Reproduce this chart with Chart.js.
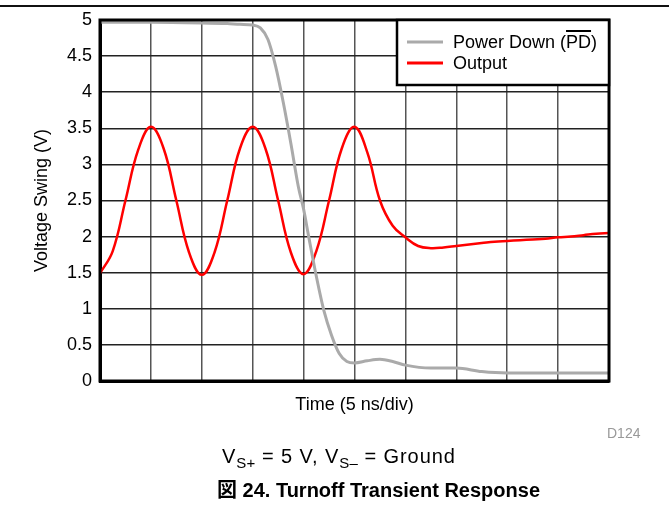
<!DOCTYPE html>
<html>
<head>
<meta charset="utf-8">
<script src="https://cdn.jsdelivr.net/npm/chart.js@4"></script>
<style>
  html, body { margin: 0; padding: 0; background: #fff; }
  #wrap { position: relative; width: 669px; height: 519px; font-family: "Liberation Sans", Arial, "Noto Sans CJK JP", sans-serif; }
  #wrap canvas { position: absolute; left: 0; top: 0; }
  .rule { position: absolute; left: 0; top: 5px; width: 669px; height: 2px; background: #111; }
  .txt { position: absolute; white-space: nowrap; line-height: 1; color: #000; }
  .cond { left: 222px; top: 446px; font-size: 20px; letter-spacing: 0.9px; }
  .cond sub { font-size: 15px; vertical-align: -5px; line-height: 0; letter-spacing: 0.3px; }
  .fig { left: 217px; top: 480px; font-size: 20px; font-weight: bold; }
  .code { left: 607px; top: 426px; font-size: 14px; color: #999; }
</style>
</head>
<body>
<div id="wrap">
  <div class="rule"></div>
  <canvas id="transientChart" width="669" height="519"></canvas>
  <div class="txt code">D124</div>
  <div class="txt cond">V<sub>S+</sub> = 5 V, V<sub>S&#8211;</sub> = Ground</div>
  <div class="txt fig">図 24. Turnoff Transient Response</div>
</div>
<script>
// time in divisions (5 ns/div), voltages in V
const pdTime = [0, 1, 2, 2.5, 2.75, 3, 3.15, 3.3, 3.45, 3.6, 3.75, 3.9, 4.0, 4.1, 4.25, 4.4, 4.55, 4.7, 4.85, 5.0, 5.25, 5.5, 5.75, 6.0, 6.5, 7.0, 7.5, 8.0, 9.0, 10];
const pdVolts = [4.97, 4.97, 4.96, 4.95, 4.94, 4.93, 4.89, 4.73, 4.36, 3.86, 3.29, 2.68, 2.38, 2.0, 1.45, 0.97, 0.63, 0.38, 0.27, 0.25, 0.28, 0.30, 0.27, 0.22, 0.18, 0.18, 0.13, 0.11, 0.11, 0.11];

const outTime = [0, 0.25, 0.5, 0.75, 1, 1.25, 1.5, 1.75, 2, 2.25, 2.5, 2.75, 3, 3.25, 3.5, 3.75, 4, 4.25, 4.5, 4.75, 5, 5.25, 5.5, 5.75, 6, 6.25, 6.5, 6.75, 7, 7.25, 7.5, 7.75, 8, 8.25, 8.5, 8.75, 9, 9.25, 9.5, 9.75, 10];
const outVolts = [1.49, 1.8, 2.5, 3.2, 3.52, 3.22, 2.5, 1.78, 1.47, 1.78, 2.5, 3.22, 3.52, 3.22, 2.5, 1.78, 1.48, 1.8, 2.5, 3.22, 3.52, 3.17, 2.5, 2.15, 1.99, 1.87, 1.84, 1.85, 1.87, 1.89, 1.91, 1.93, 1.94, 1.95, 1.96, 1.97, 1.99, 2.0, 2.02, 2.04, 2.05];

const yTicks = [0, 0.5, 1, 1.5, 2, 2.5, 3, 3.5, 4, 4.5, 5];

const FONT = '"Liberation Sans", Arial, sans-serif';

function toPoints(xs, ys) {
    return xs.map((x, i) => ({ x: x, y: ys[i] }));
}

// frame round the plot plus the boxed legend with the overline on PD
const framePlugin = {
    id: 'frame',
    afterDatasetsDraw(chart) {
        const ctx = chart.ctx;
        const a = chart.chartArea;
        ctx.save();
        ctx.strokeStyle = '#000';
        ctx.lineWidth = 3;
        ctx.strokeRect(a.left, a.top, a.right - a.left, a.bottom - a.top);

        // legend box
        const bx = 397, by = a.top, bw = a.right - 397, bh = 65;
        ctx.fillStyle = '#fff';
        ctx.fillRect(bx, by, bw, bh);
        ctx.lineWidth = 2.5;
        ctx.strokeRect(bx, by, bw, bh);

        const rows = [
            { color: '#aaaaaa', y: by + 22 },
            { color: '#ff0000', y: by + 43 }
        ];
        rows.forEach(r => {
            ctx.strokeStyle = r.color;
            ctx.lineWidth = 3;
            ctx.beginPath();
            ctx.moveTo(407, r.y);
            ctx.lineTo(443, r.y);
            ctx.stroke();
        });

        ctx.fillStyle = '#000';
        ctx.font = '18px ' + FONT;
        ctx.textBaseline = 'middle';
        ctx.textAlign = 'left';
        const tx = 453;
        ctx.fillText('Power Down (PD)', tx, rows[0].y + 1);
        ctx.fillText('Output', tx, rows[1].y + 1);

        const pre = ctx.measureText('Power Down (').width;
        const pd = ctx.measureText('PD').width;
        ctx.fillRect(tx + pre, rows[0].y - 12, pd, 2);
        ctx.restore();
    }
};

const ctx = document.getElementById('transientChart').getContext('2d');
const transientChart = new Chart(ctx, {
    type: 'line',
    data: {
        datasets: [{
            label: 'Power Down (PD)',
            data: toPoints(pdTime, pdVolts),
            borderColor: '#aaaaaa',
            borderWidth: 3,
            pointRadius: 0,
            cubicInterpolationMode: 'monotone'
        }, {
            label: 'Output',
            data: toPoints(outTime, outVolts),
            borderColor: '#ff0000',
            borderWidth: 2.5,
            pointRadius: 0,
            tension: 0.4
        }]
    },
    options: {
        responsive: false,
        animation: false,
        layout: {
            padding: { left: 0, right: 60, top: 20, bottom: 98 }
        },
        plugins: {
            legend: { display: false },
            tooltip: { enabled: false }
        },
        scales: {
            x: {
                type: 'linear',
                min: 0,
                max: 10,
                afterFit(scale) { scale.height = 40; },
                ticks: { display: false, stepSize: 1 },
                grid: { color: '#555', lineWidth: 1.5, drawTicks: false },
                border: { color: '#000', width: 3 },
                title: {
                    display: true,
                    text: 'Time (5 ns/div)',
                    color: '#000',
                    font: { family: FONT, size: 18 },
                    padding: { top: 0, bottom: 5 }
                }
            },
            y: {
                min: 0,
                max: 5,
                afterFit(scale) { scale.width = 100; },
                afterBuildTicks(scale) { scale.ticks = yTicks.map(v => ({ value: v })); },
                ticks: {
                    color: '#000',
                    padding: 8,
                    font: { family: FONT, size: 18 },
                    callback: v => String(v)
                },
                grid: { color: '#222', lineWidth: 1.5, drawTicks: false },
                border: { color: '#000', width: 3 },
                title: {
                    display: true,
                    text: 'Voltage Swing (V)',
                    color: '#000',
                    font: { family: FONT, size: 18 },
                    padding: { top: 31, bottom: 0 }
                }
            }
        }
    },
    plugins: [framePlugin]
});
</script>
</body>
</html>
